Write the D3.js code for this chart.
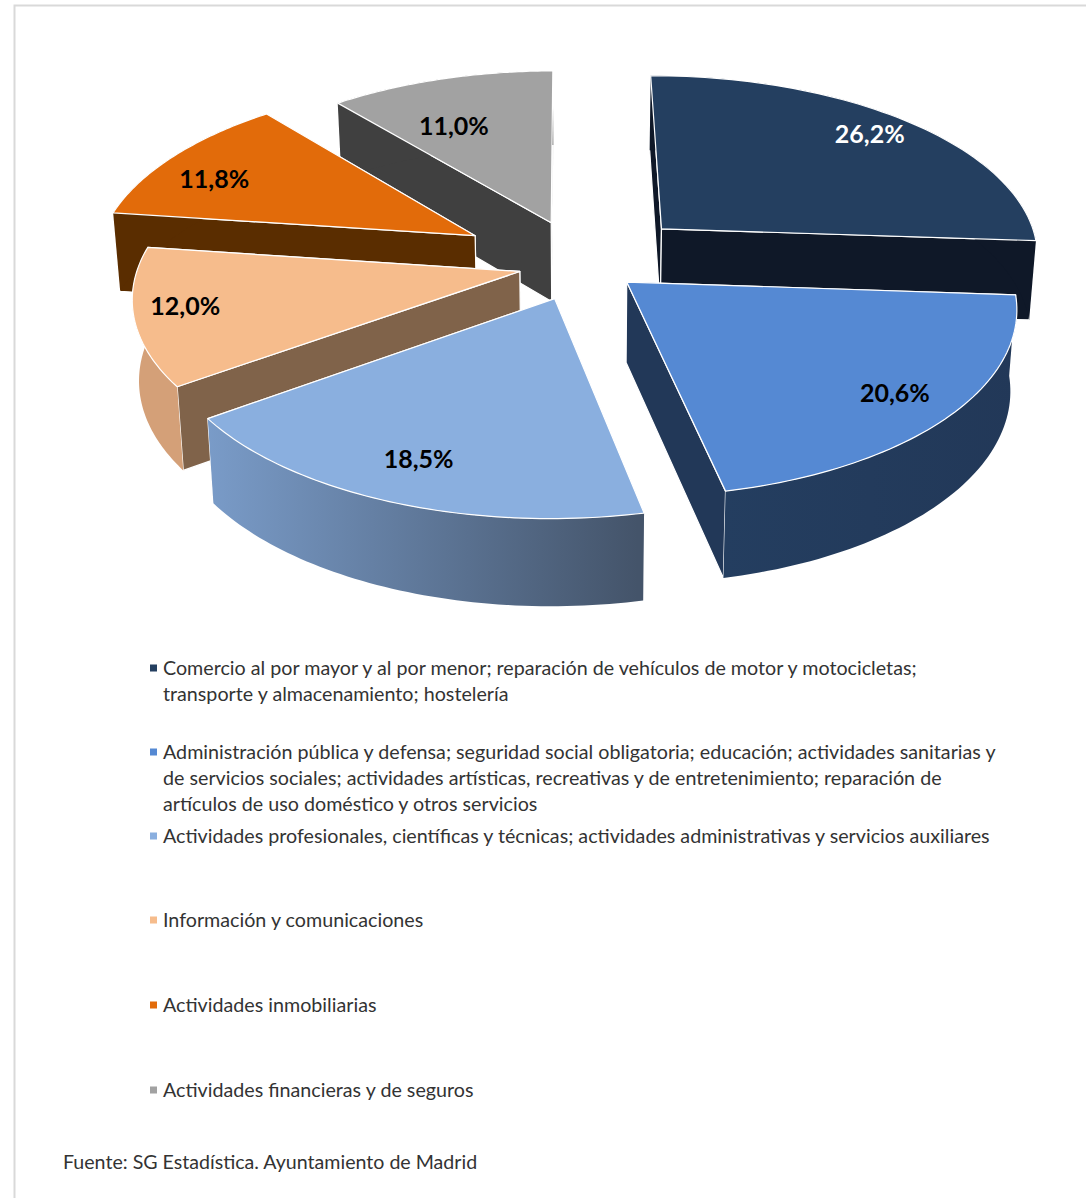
<!DOCTYPE html>
<html lang="es">
<head>
<meta charset="utf-8">
<title>Sectores</title>
<script src="https://d3js.org/d3.v7.min.js"></script>
<style>
  html, body { margin: 0; padding: 0; background: #fff; }
  svg { display: block; }
  text { font-family: Lato, "Open Sans", sans-serif; }
</style>
</head>
<body>
<script>
// Chart data
var sectors = ["Comercio", "Administracion", "Profesionales", "Informacion", "Inmobiliarias", "Financieras"];
var shares = [26.2, 20.6, 18.5, 12.0, 11.8, 11.0];
var legendLines = [
  ["Comercio al por mayor y al por menor; reparación de vehículos de motor y motocicletas;",
   "transporte y almacenamiento; hostelería"],
  ["Administración pública y defensa; seguridad social obligatoria; educación; actividades sanitarias y",
   "de servicios sociales; actividades artísticas, recreativas y de entretenimiento; reparación de",
   "artículos de uso doméstico y otros servicios"],
  ["Actividades profesionales, científicas y técnicas; actividades administrativas y servicios auxiliares"],
  ["Información y comunicaciones"],
  ["Actividades inmobiliarias"],
  ["Actividades financieras y de seguros"]
];
var sourceText = "Fuente: SG Estadística. Ayuntamiento de Madrid";

// Per slice styling
var pull = [0.29, 0.15, 0.2, 0.17, 0.33, 0.25];
var topColors = ["#243f60", "#5589d3", "#8aafdf", "#f6bc8c", "#e26b0a", "#a2a2a2"];
var cutColors = ["#0f1828", "#223858", "#44546a", "#80634a", "#5a2d00", "#404040"];
var wallColors = ["#0f1828", "url(#wall2)", "url(#wall3)", "#d4a078", "#5a2d00", "#404040"];
var labelColors = ["#fff", "#000", "#000", "#000", "#000", "#000"];
var labelNudgeX = [4, 4, -2, -16, -8, -4];
var labelNudgeY = [-3, 2, -4, -3, 10, 25];
var legendY = [668, 752, 836, 920, 1005, 1090];

// Chart Parameters
var svgWidth = 1086;
var svgHeight = 1198;
var cx = 583, cy = 264;
var radiusX = 381, radiusY = 181.5;
var persp = 0.13;
var depth = 80;
var rotation = -0.006;
var labelFraction = 0.83;
var lineGap = 26;

var svg = d3.select("body")
            .append("svg")
            .attr("width", svgWidth)
            .attr("height", svgHeight);

// Frame of the original image
svg.append("path")
   .attr("d", `M14.5,${svgHeight} V5.5 H${svgWidth}`)
   .attr("fill", "none")
   .attr("stroke", "#d9d9d9")
   .attr("stroke-width", 2);

var defs = svg.append("defs");

function addGradient(id, x1, x2, from, to) {
    var g = defs.append("linearGradient")
                .attr("id", id)
                .attr("gradientUnits", "userSpaceOnUse")
                .attr("x1", x1).attr("x2", x2)
                .attr("y1", 0).attr("y2", 0);
    g.append("stop").attr("offset", 0).attr("stop-color", from);
    g.append("stop").attr("offset", 1).attr("stop-color", to);
}
addGradient("wall2", 722, 1018, "#243e60", "#223858");
addGradient("wall3", 204, 637, "#7a9cc9", "#44546a");

// Plane coordinates to screen, with a bit of perspective. lower = bottom rim of the pie
function project(p, lower) {
    var s = 1 / (1 + persp * p[1]);
    var x = cx + radiusX * p[0] * s;
    var y = cy - radiusY * p[1] * s;
    if (lower) {
        x = cx + (x - cx) * 0.985;
        y = cy + depth + (y - cy) * 1.03;
    }
    return [x, y];
}

var pie = d3.pie().sort(null).startAngle(rotation).endAngle(rotation + 2 * Math.PI);
var slices = pie(shares).map(function(d, i) {
    var mid = (d.startAngle + d.endAngle) / 2;
    return {
        i: i,
        start: d.startAngle,
        end: d.endAngle,
        mid: mid,
        apex: [pull[i] * Math.sin(mid), pull[i] * Math.cos(mid)],
        value: d.value
    };
});

function rimPoint(s, a) {
    return [s.apex[0] + Math.sin(a), s.apex[1] + Math.cos(a)];
}
function rim(s) {
    return d3.range(0, 61).map(function(k) {
        return rimPoint(s, s.start + (s.end - s.start) * k / 60);
    });
}

var line = d3.line();
function closed(points) { return line(points) + "Z"; }

function topPath(s) {
    return closed([s.apex].concat(rim(s)).map(function(p) { return project(p, false); }));
}
function wallPath(s) {
    var r = rim(s);
    var upper = r.map(function(p) { return project(p, false); });
    var lower = r.slice().reverse().map(function(p) { return project(p, true); });
    return closed(upper.concat(lower));
}
function cutPath(s, a) {
    var edge = rimPoint(s, a);
    return closed([project(s.apex, false), project(edge, false), project(edge, true), project(s.apex, true)]);
}

// Painting order, far slices first
var drawOrder = [5, 4, 3, 0, 1, 2];

var sliceGroups = svg.selectAll("g.slice")
                     .data(drawOrder.map(function(i) { return slices[i]; }))
                     .enter()
                     .append("g")
                     .attr("class", "slice")
                     .attr("stroke", "#fff")
                     .attr("stroke-width", 1.2)
                     .attr("stroke-linejoin", "round");

// The cut face turned away from the viewer goes first
sliceGroups.append("path")
           .attr("d", function(d) { return cutPath(d, d.mid < Math.PI ? d.start : d.end); })
           .attr("fill", function(d) { return cutColors[d.i]; });
sliceGroups.append("path")
           .attr("d", function(d) { return cutPath(d, d.mid < Math.PI ? d.end : d.start); })
           .attr("fill", function(d) { return cutColors[d.i]; });
sliceGroups.append("path")
           .attr("d", wallPath)
           .attr("fill", function(d) { return wallColors[d.i]; })
           .attr("stroke", "none");
sliceGroups.append("path")
           .attr("d", topPath)
           .attr("fill", function(d) { return topColors[d.i]; });

// Value labels
var fmt = d3.formatLocale({ decimal: ",", thousands: ".", grouping: [3], currency: ["", ""] }).format(".1f");

function labelPoint(d) {
    var f = pull[d.i] + labelFraction;
    return project([f * Math.sin(d.mid), f * Math.cos(d.mid)], false);
}

svg.selectAll("text.value")
   .data(slices)
   .enter()
   .append("text")
   .attr("class", "value")
   .attr("x", function(d) { return labelPoint(d)[0] + labelNudgeX[d.i]; })
   .attr("y", function(d) { return labelPoint(d)[1] + labelNudgeY[d.i]; })
   .attr("dy", "0.36em")
   .attr("text-anchor", "middle")
   .attr("font-size", 25)
   .attr("font-weight", 700)
   .attr("fill", function(d) { return labelColors[d.i]; })
   .text(function(d) { return fmt(d.value) + "%"; });

// Legend
var legend = svg.selectAll("g.legend")
                .data(sectors)
                .enter()
                .append("g")
                .attr("class", "legend")
                .attr("transform", function(d, i) { return `translate(150, ${legendY[i]})`; });

legend.append("rect")
      .attr("x", 0)
      .attr("y", -3.5)
      .attr("width", 7)
      .attr("height", 7)
      .attr("fill", function(d, i) { return topColors[i]; });

legend.each(function(d, i) {
    d3.select(this).selectAll("text")
      .data(legendLines[i])
      .enter()
      .append("text")
      .attr("x", 13)
      .attr("y", function(t, k) { return k * lineGap; })
      .attr("dy", "0.35em")
      .attr("font-size", 19.7)
      .attr("fill", "#333")
      .text(function(t) { return t; });
});

svg.append("text")
   .attr("x", 63)
   .attr("y", 1162)
   .attr("dy", "0.35em")
   .attr("font-size", 19.6)
   .attr("fill", "#333")
   .text(sourceText);
</script>
</body>
</html>
